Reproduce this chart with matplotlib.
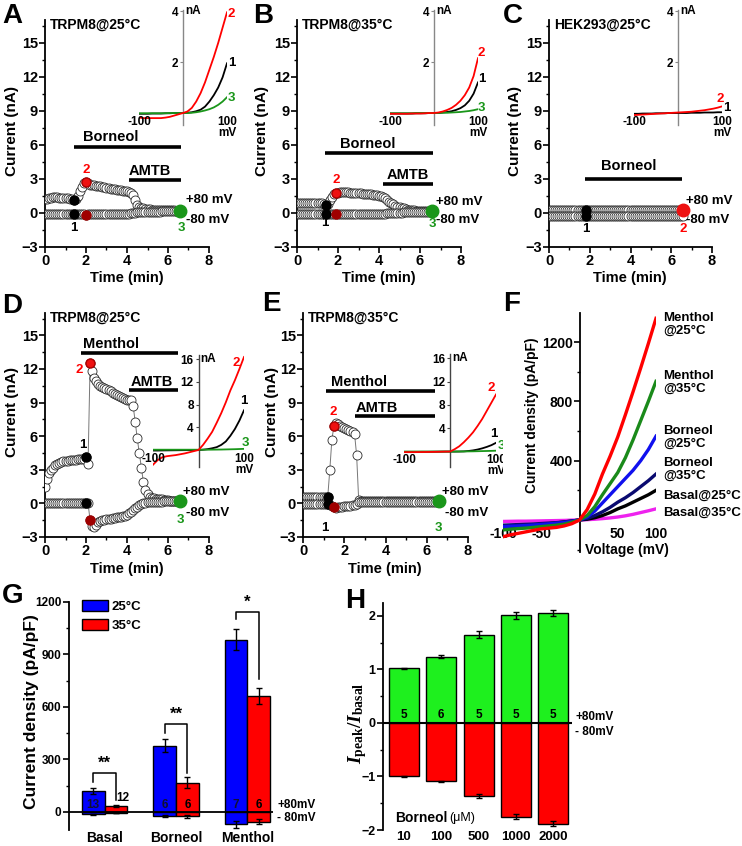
import numpy as np
import matplotlib
matplotlib.use("Agg")
import matplotlib.pyplot as plt
from matplotlib.patches import Patch
from matplotlib.ticker import MultipleLocator

plt.rcParams['font.family'] = ['Liberation Sans', 'DejaVu Sans']
plt.rcParams['font.weight'] = 'bold'
plt.rcParams['mathtext.fontset'] = 'custom'
plt.rcParams['mathtext.it'] = 'Liberation Serif:italic:bold'
plt.rcParams['mathtext.rm'] = 'Liberation Serif:bold'

# ---------------- data ----------------
# time-course sampling (min)
t = np.round(np.arange(0, 6.65, 0.1), 1)

A_pos = [1.20, 1.25, 1.30, 1.35, 1.40, 1.40, 1.40, 1.35, 1.35, 1.30,
         1.30, 1.30, 1.25, 1.20, 1.10, 1.20, 1.50, 1.90, 2.30, 2.60,
         2.75, 2.60, 2.50, 2.50, 2.45, 2.40, 2.40, 2.35, 2.30, 2.25,
         2.20, 2.20, 2.15, 2.10, 2.10, 2.05, 2.00, 2.00, 1.95, 1.90,
         1.90, 1.85, 1.80, 1.60, 1.10, 0.70, 0.50, 0.40, 0.40, 0.35,
         0.35, 0.35, 0.30, 0.30, 0.30, 0.30, 0.30, 0.30, 0.30, 0.25,
         0.25, 0.25, 0.25, 0.25, 0.20, 0.20, 0.20]
A_neg = [-0.05, -0.05, -0.05, -0.05, -0.05, -0.05, -0.05, -0.05, -0.05, -0.05,
         -0.05, -0.05, -0.05, -0.05, -0.05, -0.05, -0.05, -0.05, -0.10, -0.10,
         -0.15, -0.10, -0.10, -0.10, -0.10, -0.10, -0.10, -0.10, -0.10, -0.10,
         -0.10, -0.10, -0.05, -0.05, -0.05, -0.05, -0.05, -0.05, -0.05, -0.05,
         -0.05, -0.05, 0.00, 0.00, 0.00, 0.05, 0.05, 0.05, 0.05, 0.10,
         0.10, 0.10, 0.10, 0.10, 0.10, 0.10, 0.10, 0.15, 0.15, 0.15,
         0.15, 0.15, 0.15, 0.15, 0.15, 0.20, 0.20]

B_pos = [0.85, 0.90, 0.90, 0.90, 0.85, 0.85, 0.90, 0.90, 0.85, 0.85,
         0.85, 0.85, 0.85, 0.80, 0.70, 0.80, 1.10, 1.40, 1.65, 1.75,
         1.80, 1.85, 1.85, 1.85, 1.85, 1.85, 1.80, 1.80, 1.80, 1.80,
         1.75, 1.75, 1.70, 1.70, 1.70, 1.65, 1.65, 1.60, 1.60, 1.55,
         1.50, 1.45, 1.40, 1.30, 1.15, 1.00, 0.85, 0.75, 0.65, 0.55,
         0.50, 0.45, 0.40, 0.35, 0.30, 0.30, 0.25, 0.25, 0.20, 0.20,
         0.20, 0.15, 0.15, 0.15, 0.15, 0.15, 0.15]
B_neg = [-0.05, -0.05, -0.05, -0.05, -0.05, -0.05, -0.05, -0.05, -0.05, -0.05,
         -0.05, -0.05, -0.05, -0.05, -0.05, -0.05, -0.05, -0.05, -0.10, -0.10,
         -0.10, -0.05, -0.05, -0.05, -0.05, -0.05, -0.05, -0.05, -0.05, -0.05,
         -0.05, -0.05, -0.05, -0.05, -0.05, -0.05, -0.05, -0.05, -0.05, -0.05,
         -0.05, -0.05, -0.05, -0.05, 0.00, 0.00, 0.00, 0.00, 0.00, 0.00,
         0.00, 0.00, 0.05, 0.05, 0.05, 0.05, 0.05, 0.05, 0.05, 0.05,
         0.05, 0.05, 0.10, 0.10, 0.10, 0.10, 0.15]

C_pos = [0.30, 0.30, 0.30, 0.30, 0.30, 0.30, 0.30, 0.30, 0.30, 0.30,
         0.30, 0.30, 0.30, 0.30, 0.30, 0.30, 0.30, 0.30, 0.30, 0.30,
         0.30, 0.30, 0.30, 0.30, 0.30, 0.30, 0.30, 0.30, 0.30, 0.30,
         0.30, 0.30, 0.30, 0.30, 0.30, 0.30, 0.30, 0.30, 0.30, 0.30,
         0.30, 0.30, 0.30, 0.30, 0.30, 0.30, 0.30, 0.30, 0.30, 0.30,
         0.30, 0.30, 0.30, 0.30, 0.30, 0.30, 0.30, 0.30, 0.30, 0.30,
         0.30, 0.30, 0.30, 0.30, 0.30, 0.30, 0.30]
C_neg = [-0.30, -0.30, -0.30, -0.30, -0.30, -0.30, -0.30, -0.30, -0.30, -0.30,
         -0.30, -0.30, -0.30, -0.30, -0.30, -0.30, -0.30, -0.30, -0.30, -0.30,
         -0.30, -0.30, -0.30, -0.30, -0.30, -0.30, -0.30, -0.30, -0.30, -0.30,
         -0.30, -0.30, -0.30, -0.30, -0.30, -0.30, -0.30, -0.30, -0.30, -0.30,
         -0.30, -0.30, -0.30, -0.30, -0.30, -0.30, -0.30, -0.30, -0.30, -0.30,
         -0.30, -0.30, -0.30, -0.30, -0.30, -0.30, -0.30, -0.30, -0.30, -0.30,
         -0.30, -0.30, -0.30, -0.30, -0.30, -0.30, -0.30]

D_pos = [1.50, 2.20, 2.70, 3.00, 3.20, 3.40, 3.50, 3.60, 3.70, 3.75,
         3.80, 3.80, 3.85, 3.90, 3.90, 3.90, 3.95, 4.00, 4.00, 4.00,
         4.10, 3.50, 12.50, 11.80, 11.20, 10.90, 10.70, 10.50, 10.40, 10.30,
         10.20, 10.10, 10.00, 9.90, 9.80, 9.70, 9.60, 9.50, 9.40, 9.30,
         9.25, 9.20, 9.20, 8.70, 7.30, 5.80, 4.50, 3.20, 1.90, 1.20,
         0.80, 0.60, 0.50, 0.45, 0.40, 0.40, 0.35, 0.35, 0.30, 0.30,
         0.30, 0.25, 0.25, 0.25, 0.20, 0.20, 0.20]
D_neg = [0.00, 0.00, 0.00, 0.00, 0.00, 0.00, 0.00, 0.00, 0.00, 0.00,
         0.00, 0.00, 0.00, 0.00, 0.00, 0.00, 0.00, 0.00, 0.00, 0.00,
         0.00, 0.00, -1.50, -2.00, -2.10, -1.90, -1.70, -1.60, -1.50, -1.45,
         -1.40, -1.35, -1.35, -1.30, -1.30, -1.25, -1.25, -1.20, -1.15, -1.10,
         -1.00, -0.90, -0.75, -0.60, -0.45, -0.30, -0.15, -0.05, 0.00, 0.05,
         0.10, 0.10, 0.15, 0.15, 0.15, 0.15, 0.15, 0.15, 0.20, 0.20,
         0.20, 0.20, 0.20, 0.20, 0.20, 0.20, 0.20]

E_pos = [0.60, 0.60, 0.60, 0.60, 0.60, 0.60, 0.60, 0.60, 0.60, 0.60,
         0.60, 0.60, 0.60, 3.00, 5.70, 6.90, 7.20, 7.10, 6.90, 6.80,
         6.70, 6.60, 6.55, 6.50, 6.40, 6.20, 4.30, 0.30, 0.25, 0.25,
         0.25, 0.25, 0.25, 0.25, 0.25, 0.25, 0.25, 0.25, 0.25, 0.25,
         0.20, 0.20, 0.20, 0.20, 0.20, 0.20, 0.20, 0.20, 0.20, 0.20,
         0.20, 0.20, 0.20, 0.20, 0.20, 0.20, 0.20, 0.20, 0.20, 0.20,
         0.20, 0.20, 0.20, 0.20, 0.20, 0.20, 0.20]
E_neg = [-0.05, -0.05, -0.05, -0.05, -0.05, -0.05, -0.05, -0.05, -0.05, -0.05,
         -0.05, -0.05, -0.05, -0.10, -0.20, -0.35, -0.40, -0.35, -0.30, -0.30,
         -0.25, -0.25, -0.20, -0.20, -0.15, -0.10, -0.05, 0.10, 0.10, 0.10,
         0.10, 0.10, 0.10, 0.10, 0.10, 0.10, 0.10, 0.10, 0.10, 0.10,
         0.10, 0.10, 0.10, 0.10, 0.10, 0.10, 0.10, 0.10, 0.10, 0.10,
         0.10, 0.10, 0.10, 0.10, 0.10, 0.10, 0.10, 0.10, 0.10, 0.10,
         0.10, 0.10, 0.10, 0.10, 0.15, 0.15, 0.15]

# ramp I-V curves (mV, nA)
V = np.arange(-100, 101, 10)
A_iv1 = [-0.03, -0.03, -0.03, -0.02, -0.02, -0.02, -0.01, -0.01, 0.00, 0.00, 0.00,
         0.01, 0.03, 0.07, 0.13, 0.25, 0.45, 0.70, 1.00, 1.40, 1.95]
A_iv2 = [-0.18, -0.20, -0.20, -0.20, -0.20, -0.20, -0.18, -0.15, -0.10, -0.05, 0.00,
         0.06, 0.20, 0.45, 0.78, 1.20, 1.70, 2.20, 2.75, 3.35, 3.95]
A_iv3 = [-0.01, -0.01, -0.01, -0.01, -0.01, -0.01, -0.01, 0.00, 0.00, 0.00, 0.00,
         0.00, 0.01, 0.03, 0.06, 0.10, 0.15, 0.22, 0.32, 0.45, 0.62]
B_iv1 = [-0.02, -0.02, -0.02, -0.02, -0.02, -0.02, -0.01, -0.01, -0.01, 0.00, 0.00,
         0.00, 0.02, 0.04, 0.07, 0.12, 0.19, 0.30, 0.48, 0.76, 1.20]
B_iv2 = [-0.03, -0.03, -0.03, -0.03, -0.03, -0.02, -0.02, -0.02, -0.01, 0.00, 0.00,
         0.02, 0.06, 0.12, 0.20, 0.32, 0.48, 0.70, 1.00, 1.45, 2.15]
B_iv3 = [-0.01, -0.01, -0.01, -0.01, -0.01, -0.01, 0.00, 0.00, 0.00, 0.00, 0.00,
         0.00, 0.01, 0.01, 0.02, 0.03, 0.04, 0.06, 0.08, 0.11, 0.15]
C_iv1 = [-0.03, -0.03, -0.02, -0.02, -0.02, -0.01, -0.01, -0.01, 0.00, 0.00, 0.00,
         0.00, 0.00, 0.01, 0.01, 0.01, 0.02, 0.02, 0.02, 0.03, 0.03]
C_iv2 = [-0.08, -0.07, -0.06, -0.05, -0.04, -0.03, -0.02, -0.01, 0.00, 0.01, 0.02,
         0.03, 0.04, 0.05, 0.07, 0.09, 0.11, 0.14, 0.17, 0.21, 0.26]
D_iv1 = [-0.10, -0.10, -0.08, -0.07, -0.06, -0.05, -0.04, -0.03, -0.02, -0.01, 0.00,
         0.05, 0.15, 0.30, 0.50, 0.90, 1.50, 2.50, 3.70, 5.20, 7.00]
D_iv2 = [-2.60, -1.80, -1.30, -1.10, -1.00, -0.90, -0.75, -0.60, -0.40, -0.20, 0.00,
         0.90, 2.00, 3.20, 4.80, 6.50, 8.40, 10.50, 12.30, 14.30, 16.40]
D_iv3 = [0.05, 0.05, 0.05, 0.05, 0.05, 0.05, 0.05, 0.05, 0.05, 0.05, 0.05,
         0.05, 0.05, 0.06, 0.07, 0.08, 0.10, 0.12, 0.14, 0.17, 0.20]
E_iv1 = [-0.05, -0.05, -0.05, -0.05, -0.04, -0.04, -0.03, -0.02, -0.01, 0.00, 0.00,
         0.00, 0.01, 0.03, 0.10, 0.20, 0.35, 0.55, 0.80, 1.10, 1.50]
E_iv2 = [-0.10, -0.10, -0.10, -0.09, -0.08, -0.07, -0.06, -0.05, -0.03, -0.01, 0.00,
         0.40, 0.90, 1.60, 2.40, 3.30, 4.40, 5.60, 7.00, 8.40, 9.80]
E_iv3 = [0.00, 0.00, 0.00, 0.00, 0.00, 0.00, 0.00, 0.00, 0.00, 0.00, 0.00,
         0.00, 0.01, 0.02, 0.03, 0.04, 0.06, 0.08, 0.10, 0.12, 0.15]

# panel F, current density (pA/pF)
F_menthol25 = [-113, -100, -90, -80, -70, -60, -55, -50, -40, -25, 0,
               70, 175, 310, 430, 560, 710, 865, 1025, 1190, 1360]
F_menthol35 = [-67, -62, -58, -55, -50, -45, -40, -35, -28, -15, 0,
               30, 90, 170, 245, 320, 420, 540, 670, 800, 935]
F_borneol25 = [-45, -42, -40, -37, -34, -30, -26, -22, -17, -9, 0,
               20, 60, 115, 170, 225, 280, 335, 400, 475, 565]
F_borneol35 = [-35, -33, -31, -29, -27, -24, -21, -18, -13, -7, 0,
               10, 30, 55, 85, 120, 150, 185, 225, 265, 310]
F_basal25 = [-55, -50, -45, -40, -35, -30, -25, -20, -14, -7, 0,
             5, 15, 30, 50, 75, 95, 120, 145, 170, 200]
F_basal35 = [-10, -9, -8, -8, -7, -6, -5, -4, -3, -1, 0,
             2, 5, 9, 14, 20, 28, 38, 50, 62, 75]
F_names = ['Menthol\n@25°C', 'Menthol\n@35°C', 'Borneol\n@25°C',
           'Borneol\n@35°C', 'Basal@25°C', 'Basal@35°C']

# panel G
G_groups = ['Basal', 'Borneol', 'Menthol']
G_pos25 = [118, 378, 985]
G_pos25_err = [18, 38, 60]
G_pos35 = [33, 168, 662]
G_pos35_err = [5, 30, 45]
G_neg25 = [-12, -25, -70]
G_neg25_err = [3, 6, 20]
G_neg35 = [-5, -25, -55]
G_neg35_err = [2, 8, 15]
G_n25 = ['13', '6', '7']
G_n35 = ['12', '6', '6']
G_sig = ['**', '**', '*']

# panel H
H_conc = ['10', '100', '500', '1000', '2000']
H_pos = [1.02, 1.24, 1.65, 2.01, 2.05]
H_pos_err = [0.01, 0.02, 0.06, 0.06, 0.06]
H_neg = [-1.00, -1.09, -1.36, -1.75, -1.88]
H_neg_err = [0.01, 0.01, 0.04, 0.04, 0.05]
H_n = ['5', '6', '5', '5', '5']

# ---------------- figure ----------------
W, H = 742, 846
fig = plt.figure(figsize=(W / 100, H / 100), dpi=100)

RED = '#ff0000'
DRED = '#a00000'
GREEN = '#1a961a'


def box(l, t_, r, b):
    return fig.add_axes([l / W, 1 - b / H, (r - l) / W, (b - t_) / H])


def ftext(x, y, s, **kw):
    fig.text(x / W, 1 - y / H, s, **kw)


def time_panel(rect, pos, neg, i1, i2, i3, title, bars, last_red=False):
    ax = box(*rect)
    ax.set_xlim(0, 8)
    ax.set_ylim(-3, 17)
    for s in ('top', 'right'):
        ax.spines[s].set_visible(False)
    for s in ('left', 'bottom'):
        ax.spines[s].set_linewidth(1.3)
    ax.set_xticks([0, 2, 4, 6, 8])
    ax.xaxis.set_minor_locator(MultipleLocator(1))
    ax.set_yticks(range(-3, 16, 3))
    ax.yaxis.set_minor_locator(MultipleLocator(1.5))
    ax.tick_params(which='major', length=4, width=1.2, labelsize=10.5, pad=1)
    ax.tick_params(which='minor', length=2.5, width=1)
    for y in (pos, neg):
        ax.plot(t, y, '-', color='#777777', lw=0.7, zorder=2)
        ax.plot(t, y, 'o', ls='none', ms=6.5, mfc='white', mec='#2a2a2a',
                mew=0.6, zorder=3)
    for y in (pos, neg):
        ax.plot(t[i1], y[i1], 'o', ms=6.5, mfc='black', mec='black', zorder=4)
    if last_red:
        ax.plot(t[i2], pos[i2], 'o', ms=9, mfc='#ee1111', mec='#ee1111',
                zorder=5, clip_on=False)
    else:
        ax.plot(t[i2], pos[i2], 'o', ms=6.5, mfc='#ee1111', mec='#aa0000', zorder=4)
        ax.plot(t[i2], neg[i2], 'o', ms=6.5, mfc=DRED, mec=DRED, zorder=4)
        ax.plot(t[i3], (pos[i3] + neg[i3]) / 2, 'o', ms=9, mfc=GREEN, mec=GREEN,
                zorder=5, clip_on=False)
    ax.text(0.25, 16.55, title, fontsize=10, va='center', ha='left')
    for name, x0, x1, yb, xt, yt in bars:
        ax.plot([x0, x1], [yb, yb], color='black', lw=2.6, solid_capstyle='butt')
        ax.text(xt, yt, name, fontsize=10.5, ha='center', va='baseline')
    return ax


def inset(rect, ylim, yticks, curves, labels, spine_col):
    ax = box(*rect)
    ax.patch.set_visible(False)
    ax.set_xlim(-100, 100)
    ax.set_ylim(*ylim)
    for s in ('top', 'right', 'bottom'):
        ax.spines[s].set_visible(False)
    ax.spines['left'].set_position(('data', 0))
    ax.spines['left'].set_color(spine_col)
    ax.spines['left'].set_linewidth(1.0)
    ax.set_xticks([])
    ax.set_yticks(yticks)
    ax.tick_params(axis='y', length=2.5, width=0.8, color=spine_col,
                   labelsize=8.5, pad=1)
    for y, c in curves:
        ax.plot(V, y, color=c, lw=1.3, zorder=3)
    ax.text(4, yticks[-1], 'nA', fontsize=8.5, va='center', ha='left')
    ax.annotate('-100', (-100, 0), xytext=(0, -2), textcoords='offset points',
                ha='center', va='top', fontsize=8.5)
    ax.annotate('100', (100, 0), xytext=(0, -2), textcoords='offset points',
                ha='center', va='top', fontsize=8.5, annotation_clip=False)
    ax.annotate('mV', (100, 0), xytext=(0, -10), textcoords='offset points',
                ha='center', va='top', fontsize=8.5, annotation_clip=False)
    for s, x, y, c in labels:
        ax.text(x, y, s, color=c, fontsize=9.5, ha='center', va='center',
                clip_on=False)
    return ax


# ---- A ----
axA = time_panel((45, 20, 209, 247), A_pos, A_neg, 14, 20, 66, 'TRPM8@25°C',
                 [('Borneol', 1.41, 6.62, 5.85, 3.22, 6.3),
                  ('AMTB', 4.08, 6.62, 2.9, 5.09, 3.35)])
axA.text(6.9, 1.1, '+80 mV', fontsize=9.5, va='center', clip_on=False)
axA.text(6.9, -0.6, '-80 mV', fontsize=9.5, va='center', clip_on=False)
axA.text(1.42, -1.35, '1', fontsize=9.5, ha='center', va='center')
axA.text(2.02, 3.8, '2', fontsize=9.5, ha='center', va='center', color=RED)
axA.text(6.67, -1.35, '3', fontsize=9.5, ha='center', va='center', color=GREEN)
inset((139, 10, 227, 125), (-0.47, 4.04), [2, 4],
      [(A_iv1, 'black'), (A_iv3, GREEN), (A_iv2, RED)],
      [('2', 110, 3.9, RED), ('1', 110, 1.97, 'black'), ('3', 110, 0.6, GREEN)],
      '#888888')

# ---- B ----
axB = time_panel((297, 20, 461, 247), B_pos, B_neg, 14, 19, 66, 'TRPM8@35°C',
                 [('Borneol', 1.35, 6.65, 5.27, 3.47, 5.7),
                  ('AMTB', 4.2, 6.65, 2.53, 5.42, 2.95)])
axB.text(6.8, 1.0, '+80 mV', fontsize=9.5, va='center', clip_on=False)
axB.text(6.8, -0.65, '-80 mV', fontsize=9.5, va='center', clip_on=False)
axB.text(1.35, -0.9, '1', fontsize=9.5, ha='center', va='center')
axB.text(1.93, 2.9, '2', fontsize=9.5, ha='center', va='center', color=RED)
axB.text(6.6, -0.95, '3', fontsize=9.5, ha='center', va='center', color=GREEN)
inset((390, 10, 478, 125), (-0.47, 4.04), [2, 4],
      [(B_iv1, 'black'), (B_iv3, GREEN), (B_iv2, RED)],
      [('2', 108, 2.34, RED), ('1', 108, 1.32, 'black'), ('3', 108, 0.18, GREEN)],
      '#888888')

# ---- C ----
axC = time_panel((549, 20, 712, 247), C_pos, C_neg, 18, 66, 66, 'HEK293@25°C',
                 [('Borneol', 1.75, 6.55, 3.0, 3.93, 3.75)], last_red=True)
axC.text(6.73, 1.05, '+80 mV', fontsize=9.5, va='center', clip_on=False)
axC.text(6.73, -0.65, '-80 mV', fontsize=9.5, va='center', clip_on=False)
axC.text(1.83, -1.4, '1', fontsize=9.5, ha='center', va='center')
axC.text(6.6, -1.4, '2', fontsize=9.5, ha='center', va='center', color=RED)
inset((634, 10, 722, 125), (-0.47, 4.04), [2, 4],
      [(C_iv1, 'black'), (C_iv2, RED)],
      [('2', 97, 0.54, RED), ('1', 112, 0.18, 'black')],
      '#888888')

# ---- D ----
axD = time_panel((45, 313, 209, 537), D_pos, D_neg, 20, 22, 66, 'TRPM8@25°C',
                 [('Menthol', 1.78, 6.5, 13.45, 3.2, 13.85),
                  ('AMTB', 4.1, 6.5, 10.1, 5.2, 10.5)])
axD.text(6.75, 1.0, '+80 mV', fontsize=9.5, va='center', clip_on=False)
axD.text(6.9, -0.9, '-80 mV', fontsize=9.5, va='center', clip_on=False)
axD.text(1.85, 5.2, '1', fontsize=9.5, ha='center', va='center')
axD.text(1.68, 11.9, '2', fontsize=9.5, ha='center', va='center', color=RED)
axD.text(6.59, -1.45, '3', fontsize=9.5, ha='center', va='center', color=GREEN)
inset((153, 355, 244, 467), (-3.0, 16.75), [4, 8, 12, 16],
      [(D_iv1, 'black'), (D_iv3, GREEN), (D_iv2, RED)],
      [('2', 82, 15.3, RED), ('1', 100, 8.6, 'black'), ('3', 102, 1.2, GREEN)],
      '#444444')

# ---- E ----
axE = time_panel((303, 313, 468, 537), E_pos, E_neg, 12, 15, 66, 'TRPM8@35°C',
                 [('Menthol', 1.13, 6.42, 10.0, 2.7, 10.45),
                  ('AMTB', 2.5, 6.42, 7.8, 3.6, 8.2)])
axE.text(6.75, 1.0, '+80 mV', fontsize=9.5, va='center', clip_on=False)
axE.text(6.9, -0.9, '-80 mV', fontsize=9.5, va='center', clip_on=False)
axE.text(1.08, -2.2, '1', fontsize=9.5, ha='center', va='center')
axE.text(1.46, 8.2, '2', fontsize=9.5, ha='center', va='center', color=RED)
axE.text(6.55, -2.2, '3', fontsize=9.5, ha='center', va='center', color=GREEN)
inset((404, 354, 496, 467), (-2.65, 16.75), [4, 8, 12, 16],
      [(E_iv1, 'black'), (E_iv3, GREEN), (E_iv2, RED)],
      [('2', 90, 10.9, RED), ('1', 95, 3.0, 'black'), ('3', 112, 0.9, GREEN)],
      '#444444')

# ---- F ----
axF = box(503, 313, 656, 552)
axF.set_xlim(-100, 100)
axF.set_ylim(-216, 1396)
for s in ('top', 'right'):
    axF.spines[s].set_visible(False)
axF.spines['left'].set_position(('data', 0))
axF.spines['bottom'].set_position(('data', 0))
axF.spines['bottom'].set_visible(False)
axF.spines['left'].set_linewidth(1.3)
axF.set_yticks([400, 800, 1200])
axF.yaxis.set_minor_locator(MultipleLocator(200))
axF.set_xticks([-100, -50, 50, 100])
axF.set_xticklabels(['-100', '-50', '50', '100'])
axF.tick_params(axis='y', which='major', length=4, width=1.2, labelsize=10, pad=1)
axF.tick_params(axis='y', which='minor', length=2.5, width=1)
axF.tick_params(axis='x', length=0, labelsize=10, pad=5)
F_cols = [RED, '#1a8a1a', '#1010ee', '#0a0a70', 'black', '#ee22ee']
F_curves = [F_menthol25, F_menthol35, F_borneol25, F_borneol35, F_basal25, F_basal35]
for y, c in zip(F_curves[::-1], F_cols[::-1]):
    axF.plot(V, y, color=c, lw=2.4, zorder=3)
for (name, yl) in zip(F_names, [319, 377, 432, 464, 496, 513]):
    ftext(663, yl - 7 if '\n' in name else yl, name, fontsize=9.5,
          va='top' if '\n' in name else 'center', linespacing=1.05)
ftext(532, 415, 'Current density (pA/pF)', fontsize=10, rotation=90,
      ha='center', va='center')
ftext(627, 550, 'Voltage (mV)', fontsize=10, ha='center', va='center')

# ---- G ----
axG = box(69, 602, 273, 830)
axG.set_xlim(-0.497, 2.357)
axG.set_ylim(-103, 1200)
for s in ('top', 'right', 'bottom'):
    axG.spines[s].set_visible(False)
axG.spines['left'].set_linewidth(1.3)
xg = np.arange(len(G_groups))
bw = 0.32
ekw = dict(elinewidth=1, capthick=1)
axG.bar(xg - bw / 2, G_pos25, bw, color='#0000ff', edgecolor='black', lw=1,
        yerr=G_pos25_err, capsize=2.5, error_kw=ekw)
axG.bar(xg + bw / 2, G_pos35, bw, color=RED, edgecolor='black', lw=1,
        yerr=G_pos35_err, capsize=2.5, error_kw=ekw)
axG.bar(xg - bw / 2, G_neg25, bw, color='#0000ff', edgecolor='black', lw=1,
        yerr=G_neg25_err, capsize=2.5, error_kw=ekw)
axG.bar(xg + bw / 2, G_neg35, bw, color=RED, edgecolor='black', lw=1,
        yerr=G_neg35_err, capsize=2.5, error_kw=ekw)
axG.axhline(0, color='black', lw=1.3, zorder=4)
axG.set_yticks([0, 300, 600, 900, 1200])
axG.yaxis.set_minor_locator(MultipleLocator(150))
axG.set_xticks(xg)
axG.set_xticklabels(G_groups, fontsize=10)
axG.tick_params(axis='x', length=0, pad=1)
axG.tick_params(axis='y', which='major', length=4, width=1.2, labelsize=8.5, pad=1.5)
axG.tick_params(axis='y', which='minor', length=2.5, width=1)
for i in range(3):
    axG.text(xg[i] - bw / 2, 40, G_n25[i], fontsize=8.5, ha='center', va='center',
             color='#111133', zorder=5)
    if i == 0:
        axG.text(xg[i] + bw / 2 + 0.1, 80, G_n35[i], fontsize=8.5, ha='center',
                 va='center')
    else:
        axG.text(xg[i] + bw / 2, 40, G_n35[i], fontsize=8.5, ha='center',
                 va='center', zorder=5)
for i, (yb, yl, yr) in enumerate([(223, 173, 69), (503, 450, 221), (1143, 1100, 758)]):
    x0, x1 = xg[i] - bw / 2, xg[i] + bw / 2
    axG.plot([x0, x0, x1, x1], [yl, yb, yb, yr], color='black', lw=1.1)
    axG.text((x0 + x1) / 2, yb + 15, G_sig[i], fontsize=12, ha='center', va='bottom')
axG.legend([Patch(facecolor='#0000ff', edgecolor='black'),
            Patch(facecolor=RED, edgecolor='black')],
           ['25°C', '35°C'], loc='upper left', bbox_to_anchor=(0.04, 1.03),
           frameon=False, fontsize=9.5, handlelength=1.9, handleheight=0.9,
           handletextpad=0.3, labelspacing=0.45, borderaxespad=0)
ftext(277, 805, '+80mV', fontsize=8.5, va='center')
ftext(277, 818, '- 80mV', fontsize=8.5, va='center')
ftext(32, 712, 'Current density (pA/pF)', fontsize=12.5, rotation=90,
      ha='center', va='center')

# ---- H ----
axH = box(383, 603, 572, 830)
axH.set_xlim(-0.56, 4.5)
axH.set_ylim(-2, 2.24)
for s in ('top', 'right', 'bottom'):
    axH.spines[s].set_visible(False)
axH.spines['left'].set_linewidth(1.3)
xh = np.arange(len(H_conc))
axH.bar(xh, H_pos, 0.8, color='#1ef01e', edgecolor='black', lw=1,
        yerr=H_pos_err, capsize=2.5, error_kw=ekw)
axH.bar(xh, H_neg, 0.8, color=RED, edgecolor='black', lw=1,
        yerr=H_neg_err, capsize=2.5, error_kw=ekw)
axH.axhline(0, color='black', lw=1.5, zorder=4)
for i in range(5):
    axH.text(xh[i], 0.14, H_n[i], fontsize=8.5, ha='center', va='center')
axH.set_yticks([-2, -1, 0, 1, 2])
axH.yaxis.set_minor_locator(MultipleLocator(0.5))
axH.set_xticks(xh)
axH.set_xticklabels(H_conc, fontsize=9.5)
axH.tick_params(axis='x', length=0, pad=1)
axH.tick_params(axis='y', which='major', length=4, width=1.2, labelsize=9, pad=1.5)
axH.tick_params(axis='y', which='minor', length=2.5, width=1)
ftext(575, 717, '+80mV', fontsize=8.5, va='center')
ftext(575, 732, '- 80mV', fontsize=8.5, va='center')
ftext(395, 818, 'Borneol', fontsize=10, va='center')
ftext(449, 818, '(μM)', fontsize=9, va='center', fontweight='normal')
ftext(358, 723, r'$I_{\rm peak}/I_{\rm basal}$', fontsize=14, rotation=90,
      ha='center', va='center')

# ---- axis labels for time panels ----
for x in (12, 262, 515):
    ftext(x, 131, 'Current (nA)', fontsize=11, rotation=90, ha='center', va='center')
for x in (127, 379, 630):
    ftext(x, 278, 'Time (min)', fontsize=10.5, ha='center', va='center')
for x in (12, 272):
    ftext(x, 412, 'Current (nA)', fontsize=11, rotation=90, ha='center', va='center')
for x in (127, 385):
    ftext(x, 569, 'Time (min)', fontsize=10.5, ha='center', va='center')

# ---- panel letters ----
for s, x, y in [('A', 2, 3), ('B', 253, 3), ('C', 503, 3), ('D', 2, 293),
                ('E', 262, 291), ('F', 503, 291), ('G', 2, 583), ('H', 345, 588)]:
    ftext(x, y, s, fontsize=20, va='top', ha='left')

fig.savefig('out.png', dpi=100)
